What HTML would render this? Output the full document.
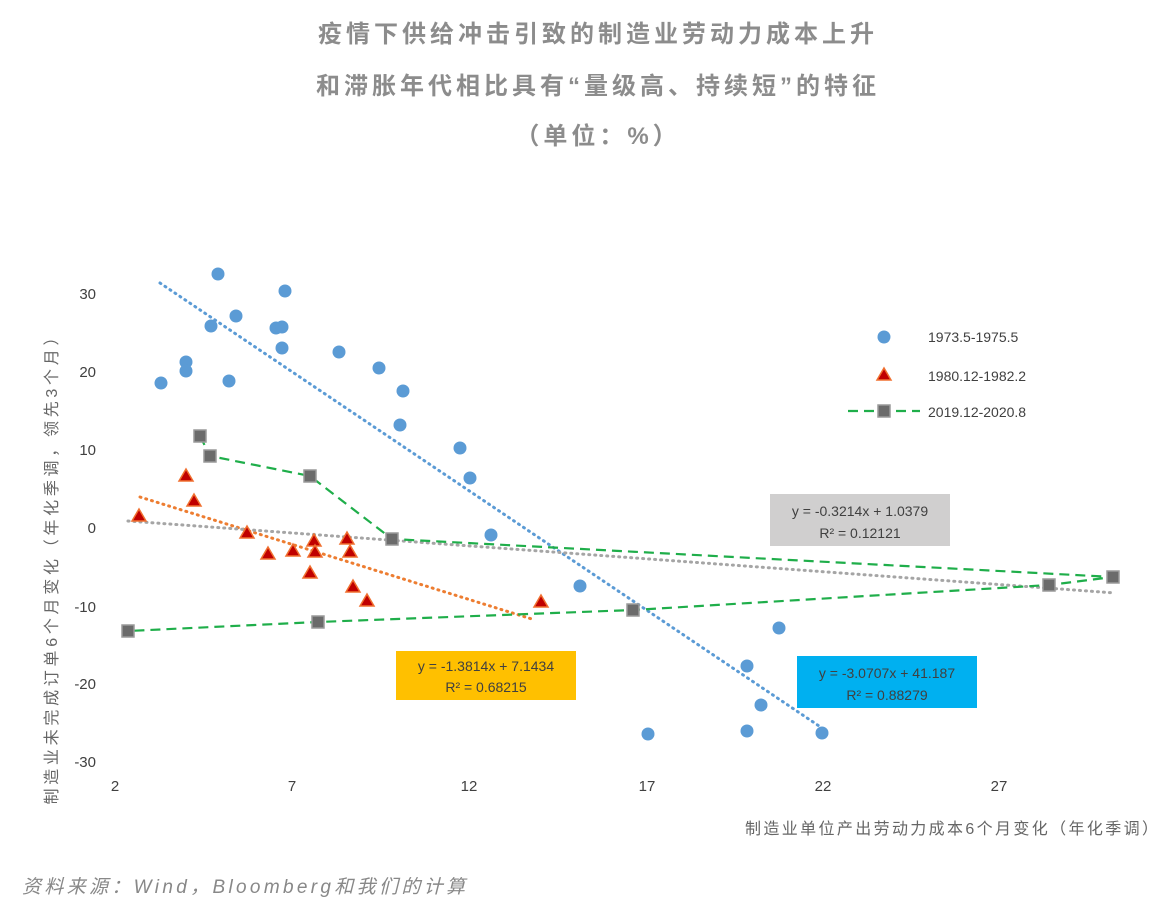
<!DOCTYPE html><html><head><meta charset="utf-8"><style>
body{margin:0;background:#fff;width:1170px;height:906px;overflow:hidden;font-family:"Liberation Sans","Noto Sans CJK SC",sans-serif}
</style></head><body>
<svg width="1170" height="906" xmlns="http://www.w3.org/2000/svg" font-family="Liberation Sans, Noto Sans CJK SC, sans-serif">
<g fill="#8c8c8c" font-size="24" font-weight="bold" text-anchor="middle" letter-spacing="4">
<text x="598" y="42">疫情下供给冲击引致的制造业劳动力成本上升</text>
<text x="598" y="94">和滞胀年代相比具有“量级高、持续短”的特征</text>
<text x="598" y="144">（单位：%）</text>
</g>
<g fill="#404040" font-size="15" text-anchor="end">
<text x="96" y="299">30</text><text x="96" y="377">20</text><text x="96" y="455">10</text><text x="96" y="533">0</text><text x="96" y="612">-10</text><text x="96" y="689">-20</text><text x="96" y="767">-30</text>
</g>
<g fill="#404040" font-size="15" text-anchor="middle">
<text x="115" y="791">2</text><text x="292" y="791">7</text><text x="469" y="791">12</text><text x="647" y="791">17</text><text x="823" y="791">22</text><text x="999" y="791">27</text>
</g>
<text x="745" y="834" fill="#666" font-size="16" textLength="413" lengthAdjust="spacing">制造业单位产出劳动力成本6个月变化（年化季调）</text>
<text transform="translate(57,567) rotate(-90)" fill="#666" font-size="16" text-anchor="middle" textLength="475" lengthAdjust="spacing">制造业未完成订单6个月变化（年化季调，领先3个月）</text>
<text x="22" y="893" fill="#888" font-size="19" font-style="italic" textLength="443" lengthAdjust="spacing">资料来源：Wind，Bloomberg和我们的计算</text>
<line x1="160" y1="283" x2="822" y2="728" stroke="#5b9bd5" stroke-width="3" stroke-dasharray="1,5" stroke-linecap="round"/>
<line x1="140" y1="497" x2="535" y2="620" stroke="#ed7d31" stroke-width="3" stroke-dasharray="1,5" stroke-linecap="round"/>
<line x1="128" y1="521" x2="1115" y2="593" stroke="#a5a5a5" stroke-width="3" stroke-dasharray="1,5" stroke-linecap="round"/>
<polyline points="200,436 210,456 310,476 392,539 1113,577 1049,585 633,610 318,622 128,631" fill="none" stroke="#1fae4a" stroke-width="2.2" stroke-dasharray="10,6"/>
<g fill="#5b9bd5">
<circle cx="161" cy="383" r="6.5"/><circle cx="186" cy="362" r="6.5"/><circle cx="186" cy="371" r="6.5"/><circle cx="218" cy="274" r="6.5"/><circle cx="211" cy="326" r="6.5"/><circle cx="236" cy="316" r="6.5"/><circle cx="229" cy="381" r="6.5"/><circle cx="285" cy="291" r="6.5"/><circle cx="276" cy="328" r="6.5"/><circle cx="282" cy="327" r="6.5"/><circle cx="282" cy="348" r="6.5"/><circle cx="339" cy="352" r="6.5"/><circle cx="379" cy="368" r="6.5"/><circle cx="403" cy="391" r="6.5"/><circle cx="400" cy="425" r="6.5"/><circle cx="460" cy="448" r="6.5"/><circle cx="470" cy="478" r="6.5"/><circle cx="491" cy="535" r="6.5"/><circle cx="580" cy="586" r="6.5"/><circle cx="779" cy="628" r="6.5"/><circle cx="747" cy="666" r="6.5"/><circle cx="761" cy="705" r="6.5"/><circle cx="747" cy="731" r="6.5"/><circle cx="648" cy="734" r="6.5"/><circle cx="822" cy="733" r="6.5"/>
</g>
<g fill="#c00000" stroke="#f07030" stroke-width="1.5">
<path d="M139,509 l7,12 h-14z"/><path d="M186,469 l7,12 h-14z"/><path d="M194,494 l7,12 h-14z"/><path d="M247,526 l7,12 h-14z"/><path d="M268,547 l7,12 h-14z"/><path d="M293,544 l7,12 h-14z"/><path d="M314,534 l7,12 h-14z"/><path d="M315,545 l7,12 h-14z"/><path d="M310,566 l7,12 h-14z"/><path d="M347,532 l7,12 h-14z"/><path d="M350,545 l7,12 h-14z"/><path d="M353,580 l7,12 h-14z"/><path d="M367,594 l7,12 h-14z"/><path d="M541,595 l7,12 h-14z"/>
</g>
<g fill="#6b6b6b" stroke="#9a9a9a" stroke-width="1.5">
<rect x="194" y="430" width="12" height="12"/><rect x="204" y="450" width="12" height="12"/><rect x="304" y="470" width="12" height="12"/><rect x="386" y="533" width="12" height="12"/><rect x="1107" y="571" width="12" height="12"/><rect x="1043" y="579" width="12" height="12"/><rect x="627" y="604" width="12" height="12"/><rect x="312" y="616" width="12" height="12"/><rect x="122" y="625" width="12" height="12"/>
</g>
<rect x="770" y="494" width="180" height="52" fill="#d0cfcf"/>
<g font-size="14" fill="#404040" text-anchor="middle">
<text x="860" y="516">y = -0.3214x + 1.0379</text><text x="860" y="538">R² = 0.12121</text></g>
<rect x="396" y="651" width="180" height="49" fill="#ffc000"/>
<g font-size="14" fill="#404040" text-anchor="middle">
<text x="486" y="671">y = -1.3814x + 7.1434</text><text x="486" y="692">R² = 0.68215</text></g>
<rect x="797" y="656" width="180" height="52" fill="#00b0f0"/>
<g font-size="14" fill="#404040" text-anchor="middle">
<text x="887" y="678">y = -3.0707x + 41.187</text><text x="887" y="700">R² = 0.88279</text></g>
<circle cx="884" cy="337" r="6.5" fill="#5b9bd5"/>
<path d="M884,368 l7,12 h-14z" fill="#c00000" stroke="#f07030" stroke-width="1.5"/>
<line x1="848" y1="411" x2="920" y2="411" stroke="#1fae4a" stroke-width="2.2" stroke-dasharray="10,6"/>
<rect x="878" y="405" width="12" height="12" fill="#6b6b6b" stroke="#9a9a9a" stroke-width="1.5"/>
<g font-size="14" fill="#404040">
<text x="928" y="342">1973.5-1975.5</text><text x="928" y="381">1980.12-1982.2</text><text x="928" y="417">2019.12-2020.8</text></g>
</svg>
</body></html>
